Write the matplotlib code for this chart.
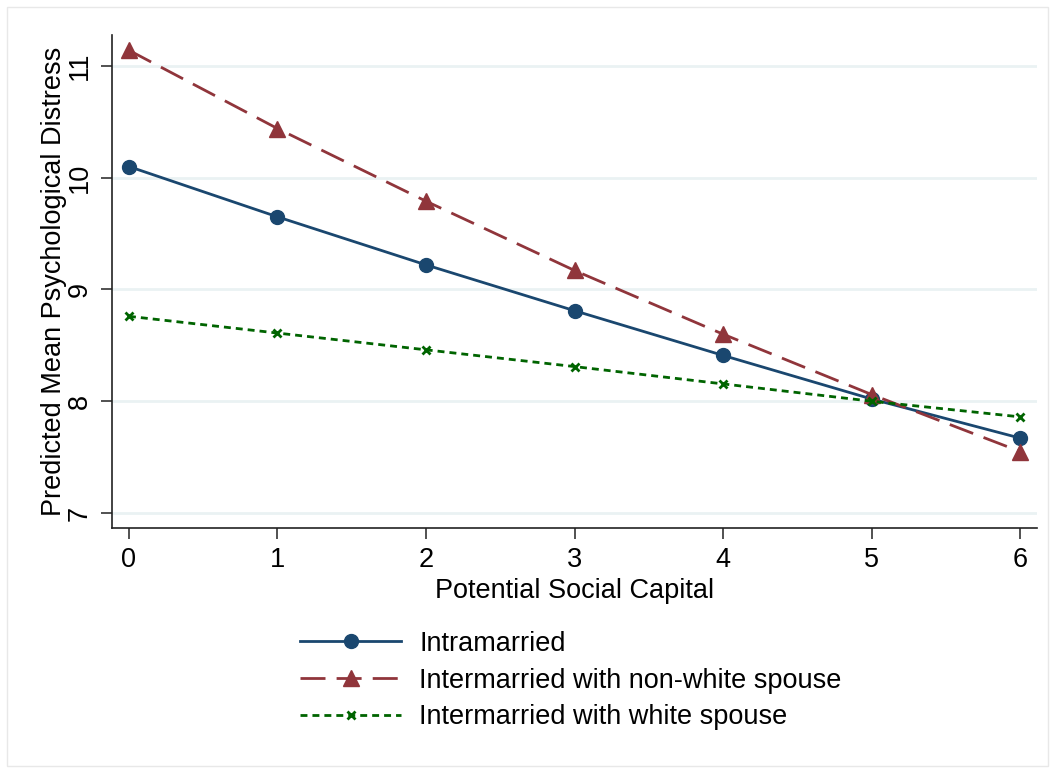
import matplotlib.pyplot as plt
from matplotlib.patches import Rectangle

plt.rcParams['font.family'] = ['Liberation Sans', 'DejaVu Sans']

capital = [0, 1, 2, 3, 4, 5, 6]
intramarried = [10.10, 9.65, 9.22, 8.81, 8.41, 8.02, 7.67]
nonwhite_spouse = [11.14, 10.44, 9.79, 9.17, 8.60, 8.06, 7.55]
white_spouse = [8.76, 8.61, 8.46, 8.31, 8.155, 8.00, 7.86]

series_labels = ['Intramarried', 'Intermarried with non-white spouse',
                 'Intermarried with white spouse']
y_ticks = [7, 8, 9, 10, 11]

fig = plt.figure(figsize=(10.55, 7.73), dpi=100)
ax = fig.add_axes([0.1062, 0.317, 0.8768, 0.6377])

# light frame round the whole graph region
fig.patches.append(Rectangle((0.007, 0.009), 0.986, 0.982, transform=fig.transFigure,
                             fill=False, edgecolor='#e8e8e8', linewidth=1))

ax.plot(capital, intramarried, color='#1a476f', linewidth=2, marker='o',
        markersize=10, label=series_labels[0])
ax.plot(capital, nonwhite_spouse, color='#90353b', linewidth=2, marker='^',
        markersize=12, dashes=(9, 4), label=series_labels[1])
ax.plot(capital, white_spouse, color='#006400', linewidth=2, marker='x',
        markersize=6, markeredgewidth=2, dashes=(2.5, 1.8), label=series_labels[2])

ax.set_xlim(-0.114, 6.114)
ax.set_ylim(6.866, 11.277)
ax.set_xticks(capital)
ax.set_yticks(y_ticks)
ax.set_yticklabels([str(t) for t in y_ticks], rotation=90, va='center')
ax.tick_params(axis='both', labelsize=19.5, length=8, width=1.2, color='#333333', pad=6)
ax.grid(axis='y', color='#eaf2f3', linewidth=2)
ax.set_axisbelow(True)

for side in ('top', 'right'):
    ax.spines[side].set_visible(False)
for side in ('left', 'bottom'):
    ax.spines[side].set_color('#222222')
    ax.spines[side].set_linewidth(1.2)

ax.set_xlabel('Potential Social Capital', fontsize=19.5, labelpad=3)
ax.set_ylabel('Predicted Mean Psychological Distress', fontsize=19.5, labelpad=0)

fig.legend(loc='upper left', bbox_to_anchor=(0.284, 0.184), frameon=False,
           fontsize=19.5, handlelength=3.76, handletextpad=0.66, labelspacing=0.4,
           borderpad=0, borderaxespad=0)

fig.savefig('out.png', dpi=100, facecolor='white')
